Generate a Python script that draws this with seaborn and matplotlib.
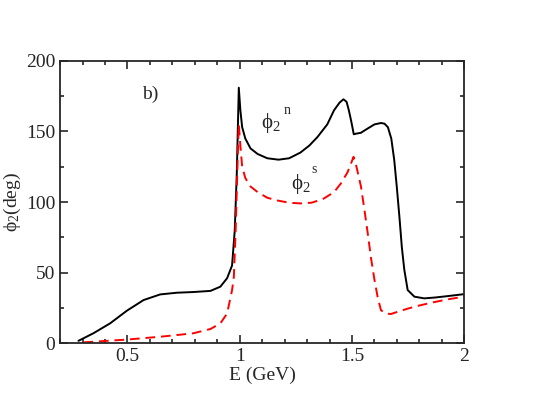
import pandas as pd
import seaborn as sns
import matplotlib.pyplot as plt
from matplotlib.ticker import MultipleLocator

# values
e_n = [0.282, 0.349, 0.423, 0.498, 0.572, 0.646, 0.72, 0.795, 0.87, 0.914, 0.944, 0.966,
       0.978, 0.987, 0.996, 1.003, 1.011, 1.025, 1.048, 1.08, 1.123, 1.173, 1.22, 1.27,
       1.31, 1.346, 1.39, 1.42, 1.445, 1.462, 1.476, 1.486, 1.497, 1.508, 1.52, 1.539,
       1.569, 1.6, 1.629, 1.645, 1.66, 1.675, 1.688, 1.7, 1.712, 1.722, 1.733, 1.748,
       1.778, 1.822, 1.87, 1.926, 2.0]
phi_n = [1.6, 7, 14, 23, 30.5, 34.5, 35.7, 36.2, 37, 40, 46, 55,
         80, 120, 181, 165, 153, 145, 138, 134, 131, 130, 131, 135,
         140, 146, 155, 165, 170.5, 172.8, 171, 165, 157, 148, 148.5, 149,
         152, 155, 156, 155.5, 153, 145, 130, 110, 88, 68, 52, 37.6,
         32.9, 31.7, 32.3, 33.3, 34.7]

e_s = [0.304, 0.4, 0.498, 0.572, 0.646, 0.72, 0.795, 0.87, 0.914, 0.944, 0.966, 0.974,
       0.982, 0.99, 0.996, 1.003, 1.011, 1.025, 1.048, 1.08, 1.123, 1.17, 1.22, 1.27,
       1.32, 1.37, 1.42, 1.45, 1.48, 1.495, 1.507, 1.52, 1.54, 1.555, 1.57, 1.585,
       1.6, 1.615, 1.629, 1.648, 1.673, 1.7, 1.74, 1.778, 1.85, 1.926, 2.0]
phi_s = [0.5, 1.5, 2.5, 3.5, 4.5, 5.7, 7, 10, 14, 21, 37.6, 47,
         80, 125, 155, 140, 125, 117, 111, 107, 103, 101, 99.5, 99,
         99.5, 102, 107, 113, 121, 127, 132, 125, 111, 95, 78, 60,
         45, 32, 23.4, 21, 20.6, 22, 24, 25.8, 28.5, 31, 32.9]

df_n = pd.DataFrame({"E": e_n, "phi": phi_n})
df_s = pd.DataFrame({"E": e_s, "phi": phi_s})

sns.set_style("ticks")
plt.rcParams["font.family"] = ["Liberation Serif", "DejaVu Serif"]
plt.rcParams["mathtext.fontset"] = "custom"
plt.rcParams["mathtext.rm"] = "Liberation Serif"
plt.rcParams["mathtext.it"] = "Liberation Serif:italic"

fig = plt.figure(figsize=(5.56, 3.93), dpi=100)
ax = fig.add_axes([0.108, 0.127, 0.727, 0.718])

sns.lineplot(data=df_n, x="E", y="phi", ax=ax, color="black", lw=1.4, sort=False)
sns.lineplot(data=df_s, x="E", y="phi", ax=ax, color="red", lw=1.4, sort=False,
             linestyle=(0, (5, 3)))

ax.set_xlim(0.2, 2.0)
ax.set_ylim(0, 200)
ax.xaxis.set_major_locator(MultipleLocator(0.5))
ax.xaxis.set_minor_locator(MultipleLocator(0.1))
ax.yaxis.set_major_locator(MultipleLocator(50))
ax.yaxis.set_minor_locator(MultipleLocator(25))
ax.set_xticks([0.5, 1.0, 1.5, 2.0])
ax.set_xticklabels(["0.5", "1", "1.5", "2"])
ax.tick_params(which="both", direction="in", top=True, right=True, labelsize=14, width=1.2)
ax.tick_params(which="major", length=6)
ax.tick_params(which="minor", length=3)
for s in ax.spines.values():
    s.set_linewidth(1.3)

ax.set_xlabel("E (GeV)", fontsize=14, labelpad=1)
ax.set_ylabel("$\\mathrm{ϕ}_\\mathrm{2}$(deg)", fontsize=14, labelpad=2)

ax.text(0.6, 176, "b)", fontsize=14, ha="center", va="center")
# curve labels: phi_2 with the superscript set apart, as in the original
ax.text(1.14, 156, "$\\mathrm{ϕ}_\\mathrm{2}$", fontsize=15, ha="center", va="center")
ax.text(1.213, 165, "n", fontsize=10, ha="center", va="center")
ax.text(1.272, 113, "$\\mathrm{ϕ}_\\mathrm{2}$", fontsize=15, ha="center", va="center")
ax.text(1.333, 123, "s", fontsize=10, ha="center", va="center")

fig.savefig("out.png", dpi=100)
